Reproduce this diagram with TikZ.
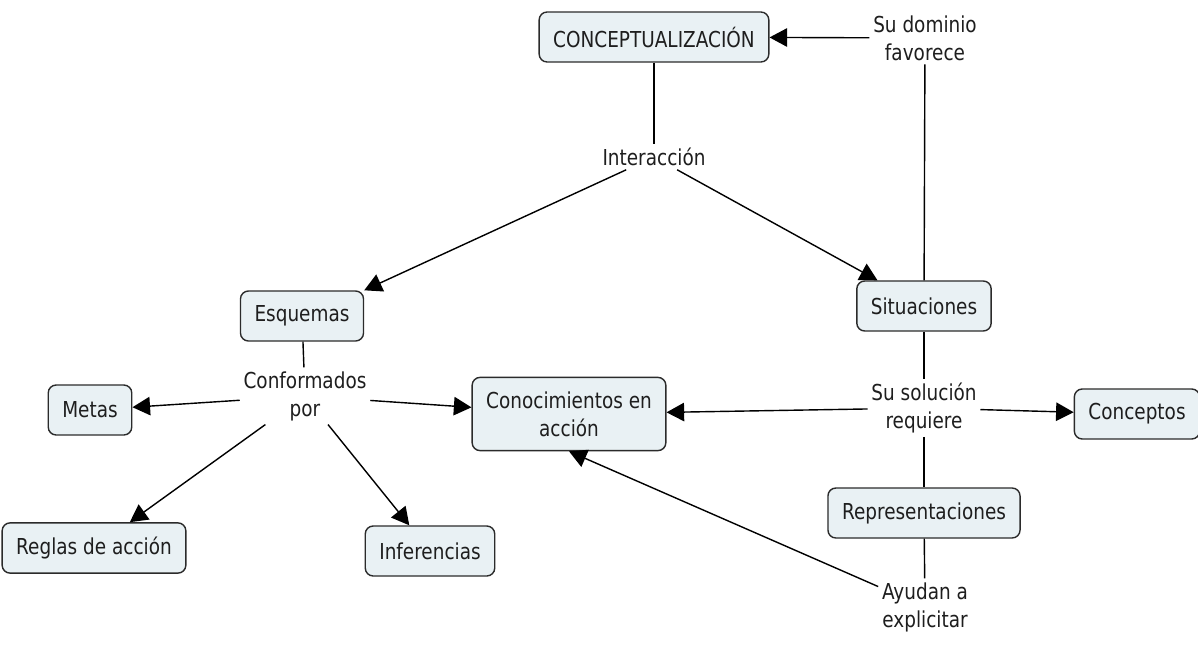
\documentclass[tikz,border=0pt]{standalone}
\usepackage{fontspec}
\setmainfont{DejaVu Sans}[FakeStretch=0.84]
\usetikzlibrary{arrows.meta}
\definecolor{BoxFill}{HTML}{E9F1F4}
\definecolor{BoxLine}{HTML}{2B2B2B}
\definecolor{TextInk}{HTML}{1E1E1E}

\begin{document}
\begin{tikzpicture}[x=0.02cm,y=-0.02cm,
  concept/.style={draw=BoxLine,fill=BoxFill,rounded corners=4.5pt,line width=0.8pt,
    minimum height=1cm,inner xsep=8pt,inner ysep=8pt,text=TextInk,
    font=\fontsize{12.5}{16}\selectfont,align=center},
  linkword/.style={inner sep=2pt,text=TextInk,font=\fontsize{12.5}{16}\selectfont,align=center},
  link/.style={draw=black,line width=0.8pt},
  arrow/.style={link,-{Triangle[length=10pt,width=10.5pt]}}]
\useasboundingbox (0,0) rectangle (1198,646);
% concepts and linking words
\node[concept] (concep) at (654,37) {CONCEPTUALIZACIÓN};
\node[linkword] (dominio) at (925,38) {Su dominio\\favorece};
\node[linkword] (inter) at (654,157) {Interacción};
\node[concept] (esq) at (302,316) {Esquemas};
\node[concept] (sit) at (924,306) {Situaciones};
\node[linkword] (conf) at (305,396) {Conformados\\por};
\node[concept] (metas) at (90,410) {Metas};
\node[concept] (cono) at (569,414) {Conocimientos en\\acción};
\node[concept] (reglas) at (94,548) {Reglas de acción};
\node[concept] (infer) at (430,551) {Inferencias};
\node[linkword] (sol) at (924,408) {Su solución\\requiere};
\node[concept] (concp) at (1137,414) {Conceptos};
\node[concept] (repr) at (924,513) {Representaciones};
\node[linkword] (ayud) at (925,607) {Ayudan a\\explicitar};
% connectors
\draw[arrow] (dominio) -- (concep);
\draw[link] (concep) -- (inter);
\draw[arrow] (inter) -- (esq.north east);
\draw[arrow] (inter) -- (sit);
\draw[link] (dominio) -- (sit);
\draw[link] (esq) -- (conf);
\draw[arrow] (conf) -- (metas);
\draw[arrow] (conf) -- (cono);
\draw[arrow] (conf) -- (reglas);
\draw[arrow] (conf) -- (infer);
\draw[link] (sit) -- (sol);
\draw[arrow] (sol) -- (cono);
\draw[arrow] (sol) -- (concp);
\draw[link] (sol) -- (repr);
\draw[link] (repr) -- (ayud);
\draw[arrow] (ayud) -- (cono.south);
\end{tikzpicture}
\end{document}
